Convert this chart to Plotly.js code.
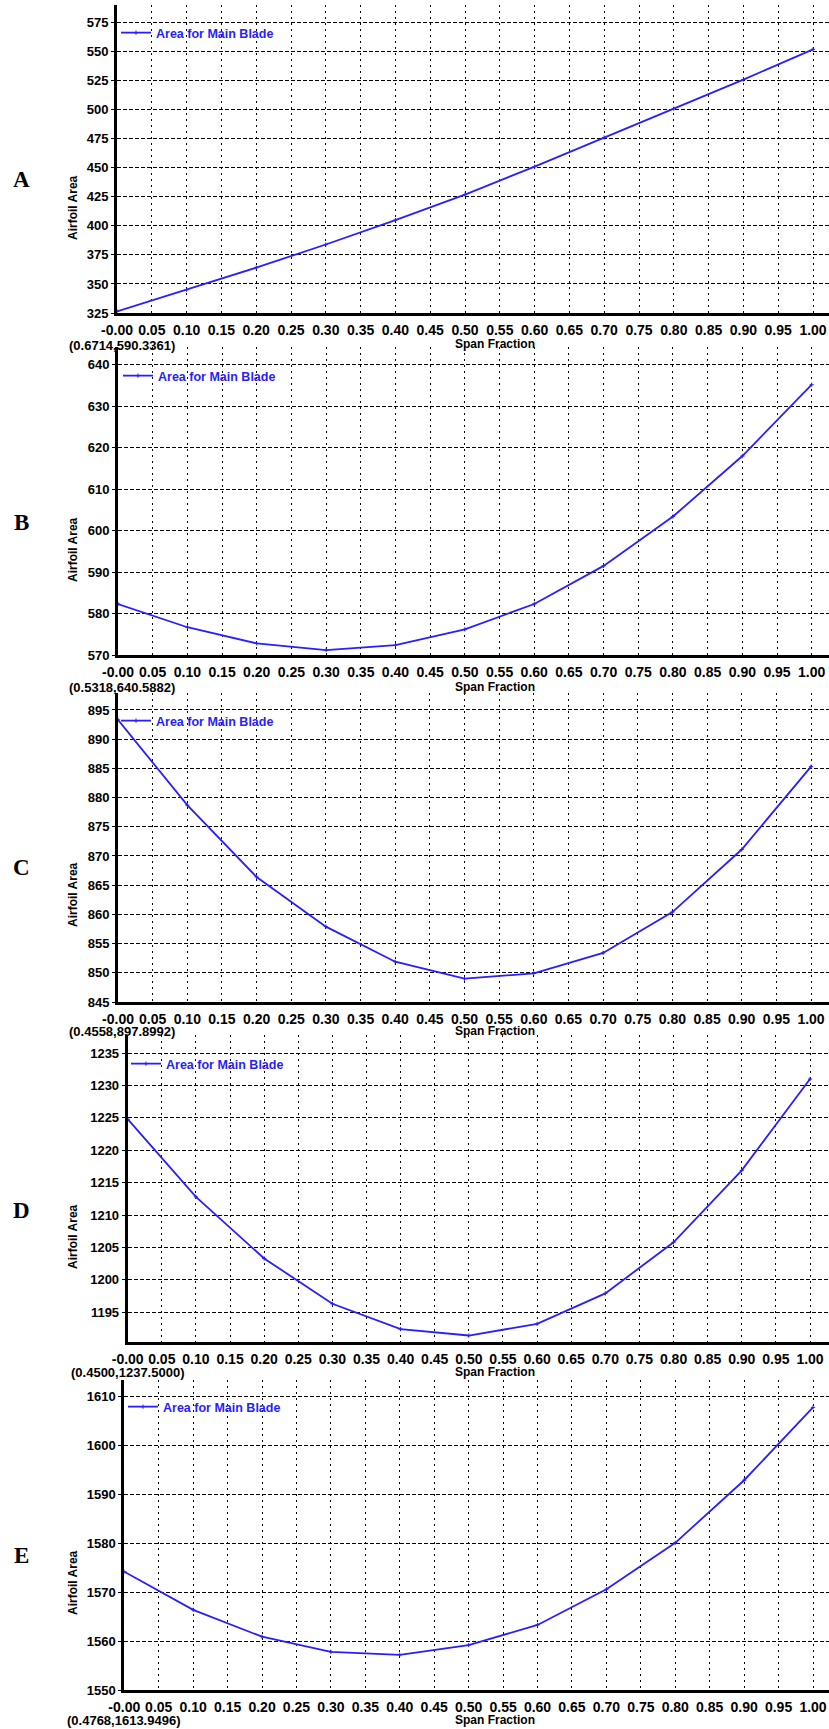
<!DOCTYPE html>
<html>
<head>
<meta charset="utf-8">
<script src="https://cdn.plot.ly/plotly-3.0.1.min.js"></script>
<style>html,body{margin:0;padding:0;background:#fff;}#chart{width:829px;height:1729px;}</style>
</head>
<body>
<div id="chart"></div>
<script>
// ---- data ----
const spanFraction = [0, 0.1, 0.2, 0.3, 0.4, 0.5, 0.6, 0.7, 0.8, 0.9, 1.0];
const areaA = [326.4, 345, 364, 384, 405, 427, 451, 476, 501, 526, 552];
const areaB = [582.3, 576.7, 572.8, 571.2, 572.4, 576.2, 582.3, 591.5, 603.4, 618.0, 635.2];
const areaC = [893.3, 878.7, 866.4, 857.9, 851.9, 849.0, 849.9, 853.4, 860.4, 871.1, 885.3];
const areaD = [1224.8, 1212.8, 1203.3, 1196.3, 1192.4, 1191.4, 1193.2, 1197.9, 1205.8, 1216.9, 1231.0];
const areaE = [1574.2, 1566.4, 1560.9, 1557.8, 1557.2, 1559.2, 1563.3, 1570.6, 1580.1, 1592.9, 1607.8];

const panelLetters = ['A', 'B', 'C', 'D', 'E'];
const seriesName = 'Area for Main Blade';
const xTitle = 'Span Fraction';
const yTitle = 'Airfoil Area';
const cursorLabels = ['(0.6714,590.3361)', '(0.5318,640.5882)', '(0.4558,897.8992)', '(0.4500,1237.5000)', '(0.4768,1613.9496)'];

const xTickVals = [0, 0.05, 0.10, 0.15, 0.20, 0.25, 0.30, 0.35, 0.40, 0.45, 0.50, 0.55, 0.60, 0.65, 0.70, 0.75, 0.80, 0.85, 0.90, 0.95, 1.00];
const xTickText = ['-0.00', '0.05', '0.10', '0.15', '0.20', '0.25', '0.30', '0.35', '0.40', '0.45', '0.50', '0.55', '0.60', '0.65', '0.70', '0.75', '0.80', '0.85', '0.90', '0.95', '1.00'];
const yTicksA = [325, 350, 375, 400, 425, 450, 475, 500, 525, 550, 575];
const yTicksB = [570, 580, 590, 600, 610, 620, 630, 640];
const yTicksC = [845, 850, 855, 860, 865, 870, 875, 880, 885, 890, 895];
const yTicksD = [1195, 1200, 1205, 1210, 1215, 1220, 1225, 1230, 1235];
const yTicksE = [1550, 1560, 1570, 1580, 1590, 1600, 1610];

// ---- layout geometry (pixels in the 829x1729 page) ----
const W = 829, H = 1729;
const areas = [areaA, areaB, areaC, areaD, areaE];
const yTicks = [yTicksA, yTicksB, yTicksC, yTicksD, yTicksE];
const geo = [
  {x0: 117,   x1: 813,   top: 5,    bot: 313,  yr: [325, 590.2],   leg: 33,   legX: 116, let: 180,  ytl: 208,  cur: 345,  curX: 67, sf: 344},
  {x0: 118,   x1: 811.7, top: 347,  bot: 655,  yr: [570, 644.3],   leg: 376,  legX: 118, let: 522,  ytl: 550,  cur: 687,  curX: 67, sf: 687},
  {x0: 118,   x1: 811,   top: 693,  bot: 1002, yr: [845, 897.9],   leg: 721,  legX: 116, let: 867,  ytl: 895,  cur: 1031, curX: 67, sf: 1031},
  {x0: 127.7, x1: 810,   top: 1035, bot: 1342, yr: [1190.4, 1237.8], leg: 1064, legX: 126, let: 1210, ytl: 1237, cur: 1372, curX: 69, sf: 1372},
  {x0: 124.3, x1: 813,   top: 1380, bot: 1690, yr: [1550, 1613.4], leg: 1407, legX: 123, let: 1555, ytl: 1583, cur: 1720, curX: 65, sf: 1720}
];

const SANS = 'Liberation Sans, Arial, sans-serif';
const SERIF = 'Liberation Serif, Times New Roman, serif';
const BLUE = 'rgb(40,30,255)';

const data = [];
const layout = {
  width: W, height: H, autosize: false,
  margin: {l: 0, r: 0, t: 0, b: 0, pad: 0},
  paper_bgcolor: '#ffffff', plot_bgcolor: '#ffffff',
  showlegend: true,
  annotations: []
};

const px = x => x / W;
const py = y => 1 - y / H;

geo.forEach((g, i) => {
  const n = i === 0 ? '' : String(i + 1);
  data.push({
    type: 'scatter', mode: 'lines+markers',
    x: spanFraction, y: areas[i],
    xaxis: 'x' + n, yaxis: 'y' + n,
    name: seriesName,
    legend: 'legend' + n,
    line: {color: BLUE, width: 1.8},
    marker: {symbol: 'cross-thin', size: 3, color: BLUE, line: {color: BLUE, width: 1}},
    hoverinfo: 'skip'
  });
  const xr = (W - g.x0) / (g.x1 - g.x0);
  layout['xaxis' + n] = {
    domain: [px(g.x0), 1],
    anchor: 'y' + n,
    range: [0, xr],
    tickvals: xTickVals, ticktext: xTickText,
    tickfont: {family: SANS, size: 14, color: '#000', weight: 'bold'},
    ticks: '', ticklabelstandoff: 3,
    showgrid: true, gridcolor: '#000', gridwidth: 1, griddash: '2px,4px',
    showline: true, linecolor: '#000', linewidth: 2.5,
    zeroline: false, fixedrange: true
  };
  layout['yaxis' + n] = {
    domain: [py(g.bot), py(g.top)],
    anchor: 'x' + n,
    range: g.yr,
    tickvals: yTicks[i],
    tickfont: {family: SANS, size: 13, color: '#000', weight: 'bold'},
    ticks: 'outside', ticklen: 3, tickwidth: 1, tickcolor: '#000',
    showgrid: true, gridcolor: '#000', gridwidth: 1, griddash: '4px,2px',
    showline: true, linecolor: '#000', linewidth: 3,
    zeroline: false, fixedrange: true
  };
  layout['legend' + n] = {
    x: px(g.legX), y: py(g.leg), xanchor: 'left', yanchor: 'middle',
    xref: 'paper', yref: 'paper',
    bgcolor: 'rgba(0,0,0,0)', borderwidth: 0,
    font: {family: SANS, size: 12.5, color: BLUE, weight: 'bold'},
    itemwidth: 30
  };
  layout.annotations.push(
    {text: panelLetters[i], x: px(21), y: py(g.let), xref: 'paper', yref: 'paper',
     xanchor: 'center', yanchor: 'middle', showarrow: false,
     font: {family: SERIF, size: 23, color: '#000', weight: 'bold'}},
    {text: yTitle, x: px(73), y: py(g.ytl), xref: 'paper', yref: 'paper', textangle: -90,
     xanchor: 'center', yanchor: 'middle', showarrow: false,
     font: {family: SANS, size: 12, color: '#000', weight: 'bold'}},
    {text: cursorLabels[i], x: px(g.curX), y: py(g.cur), xref: 'paper', yref: 'paper',
     xanchor: 'left', yanchor: 'middle', showarrow: false,
     font: {family: SANS, size: 13, color: '#000', weight: 'bold'}},
    {text: xTitle, x: px(495), y: py(g.sf), xref: 'paper', yref: 'paper',
     xanchor: 'center', yanchor: 'middle', showarrow: false,
     font: {family: SANS, size: 12, color: '#000', weight: 'bold'}}
  );
});

Plotly.newPlot('chart', data, layout, {displayModeBar: false, staticPlot: true});
</script>
</body>
</html>
